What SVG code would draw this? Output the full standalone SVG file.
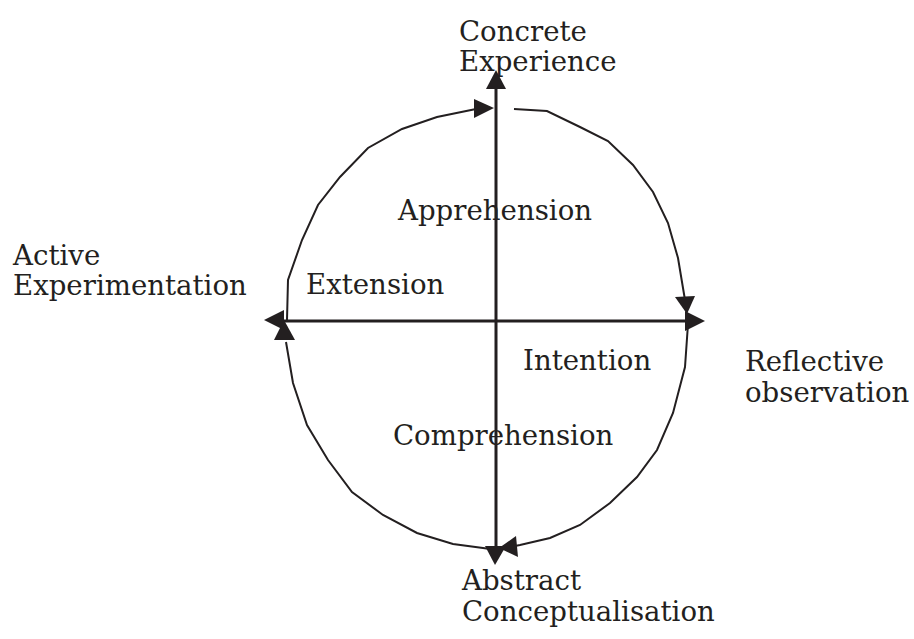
<svg xmlns="http://www.w3.org/2000/svg" width="914" height="639" viewBox="0 0 914 639">
<style>
  .lbl { font-family: "DejaVu Serif", "Liberation Serif", serif; font-size: 27.6px; fill: #231f20; }
  .axis { stroke: #231f20; stroke-width: 3; fill: none; }
  .arc { stroke: #231f20; stroke-width: 2; fill: none; stroke-linejoin: miter; }
  .head { fill: #231f20; stroke: none; }
</style>
<rect width="914" height="639" fill="#ffffff"/>
<g id="connectors">
  <line class="axis" x1="496" y1="86" x2="496" y2="548"/>
  <polygon class="head" points="496,70 486,89 506,89"/>
  <polygon class="head" points="495,565 485,546 506,546"/>
  <line class="axis" x1="282" y1="321" x2="688" y2="321"/>
  <polygon class="head" points="705,321 685,311 685,331"/>
  <polygon class="head" points="264,320 284,310 284,330"/>
  <polyline class="arc" points="514,109 547,111 580,127 608,141 633,165 653,192 668,223 678,258 683,288 685,300"/>
  <polygon class="head" points="687,314 675,297 695,296"/>
  <polyline class="arc" points="688,324 685,367 673,413 657,450 637,477 610,503 580,525 550,538 520,545 510,547"/>
  <polygon class="head" points="499,548 516,536 518,557"/>
  <polyline class="arc" points="490,549 483,548 453,544 417,533 383,515 352,492 328,460 307,425 293,383 286,342"/>
  <polygon class="head" points="284,320 274,340 295,340"/>
  <polyline class="arc" points="287,320 288,280 302,240 318,205 340,177 368,148 402,129 437,117 476,109"/>
  <polygon class="head" points="494,108 474,99 474,118"/>
</g>
<g id="concrete-experience"><text class="lbl" x="459" y="41">Concrete</text><text class="lbl" x="459" y="71">Experience</text></g>
<g id="active-experimentation"><text class="lbl" x="13" y="265">Active</text><text class="lbl" x="13" y="295">Experimentation</text></g>
<g id="reflective-observation"><text class="lbl" x="745" y="371">Reflective</text><text class="lbl" x="745" y="402">observation</text></g>
<g id="abstract-conceptualisation"><text class="lbl" x="462" y="590">Abstract</text><text class="lbl" x="462" y="621">Conceptualisation</text></g>
<g id="apprehension"><text class="lbl" x="398" y="220">Apprehension</text></g>
<g id="extension"><text class="lbl" x="306" y="294">Extension</text></g>
<g id="intention"><text class="lbl" x="523" y="370">Intention</text></g>
<g id="comprehension"><text class="lbl" x="393" y="445">Comprehension</text></g>
</svg>
